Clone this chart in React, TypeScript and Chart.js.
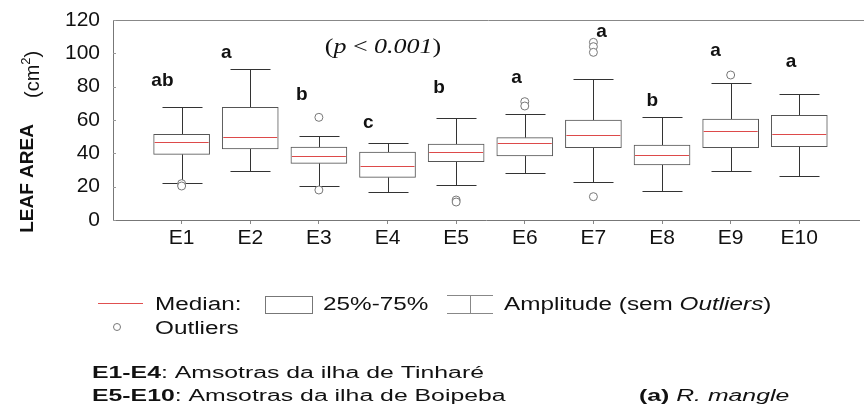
import React, { useEffect, useRef } from 'react';
import { Chart, registerables } from 'chart.js';

Chart.register(...registerables);

const categories = ['E1', 'E2', 'E3', 'E4', 'E5', 'E6', 'E7', 'E8', 'E9', 'E10'];
const whiskerLow = [22.2, 29.4, 20.2, 17, 20.8, 28.2, 23, 17.6, 29.4, 26.4];
const q1 = [39.4, 42.6, 34, 25.6, 35, 38.4, 43.4, 33, 43.4, 44];
const median = [46.6, 50, 38.2, 32.6, 40.6, 46.4, 50.8, 38.8, 53.2, 51.8];
const q3 = [51.4, 67.6, 43.8, 40.8, 45.6, 49.4, 60, 45, 60.6, 62.8];
const whiskerHigh = [67.6, 90.6, 50.6, 46.2, 61.2, 63.8, 84.8, 61.8, 82.4, 75.8];

const outlierGroup = [1, 1, 3, 3, 5, 5, 6, 6, 7, 7, 7, 7, 9];
const outlierValue = [21.8, 20.4, 61.6, 18, 12, 10.8, 71, 68.4, 106.6, 104, 100.6, 14, 87];

const groupLetters = ['ab', 'a', 'b', 'c', 'b', 'a', 'a', 'b', 'a', 'a'];
const letterX = [0.72, 1.65, 2.75, 3.72, 4.75, 5.88, 7.12, 7.86, 8.78, 9.88];
const letterY = [80.4, 97, 72, 55, 76.4, 82.4, 110, 68.4, 98.4, 91.6];

const yMin = 0;
const yMax = 120;
const yStep = 20;
const xMax = 10.87;

const SANS = '"Liberation Sans", Arial, sans-serif';
const SERIF = '"Liberation Serif", "Times New Roman", serif';
const TEXT = '#111';

type Seg = [string, string, number?];

function drawSegs(ctx: CanvasRenderingContext2D, segs: Seg[], x: number, y: number, sx: number, align: 'left' | 'center' = 'left') {
  ctx.save();
  let total = 0;
  for (const [t, f] of segs) {
    ctx.font = f;
    total += ctx.measureText(t).width;
  }
  const start = align === 'center' ? x - (total * sx) / 2 : x;
  ctx.translate(start, y);
  ctx.scale(sx, 1);
  ctx.textAlign = 'left';
  ctx.textBaseline = 'alphabetic';
  ctx.fillStyle = TEXT;
  let cx = 0;
  for (const [t, f, dy] of segs) {
    ctx.font = f;
    ctx.fillText(t, cx, dy || 0);
    cx += ctx.measureText(t).width;
  }
  ctx.restore();
}

const boxPartsPlugin = {
  id: 'boxParts',
  beforeDatasetsDraw(chart: any) {
    const ctx = chart.ctx as CanvasRenderingContext2D;
    const xs = chart.scales.x;
    const ys = chart.scales.y;
    const area = chart.chartArea;
    ctx.save();
    ctx.strokeStyle = '#888';
    ctx.lineWidth = 1;
    ctx.beginPath();
    ctx.moveTo(area.left, Math.round(area.top) + 0.5);
    ctx.lineTo(chart.width, Math.round(area.top) + 0.5);
    ctx.stroke();
    ctx.strokeStyle = '#999';
    for (let v = yMin; v <= yMax; v += yStep) {
      const py = Math.round(ys.getPixelForValue(v)) + 0.5;
      ctx.beginPath();
      ctx.moveTo(area.left, py);
      ctx.lineTo(area.left + 3, py);
      ctx.stroke();
    }
    ctx.strokeStyle = '#333';
    ctx.lineWidth = 1;
    const capHalf = 20;
    categories.forEach((_, i) => {
      const px = Math.round(xs.getPixelForValue(i + 1)) + 0.5;
      const pLow = Math.round(ys.getPixelForValue(whiskerLow[i])) + 0.5;
      const pHigh = Math.round(ys.getPixelForValue(whiskerHigh[i])) + 0.5;
      const pQ1 = ys.getPixelForValue(q1[i]);
      const pQ3 = ys.getPixelForValue(q3[i]);
      ctx.beginPath();
      ctx.moveTo(px, pLow);
      ctx.lineTo(px, pQ1);
      ctx.moveTo(px, pQ3);
      ctx.lineTo(px, pHigh);
      ctx.moveTo(px - capHalf, pLow);
      ctx.lineTo(px + capHalf, pLow);
      ctx.moveTo(px - capHalf, pHigh);
      ctx.lineTo(px + capHalf, pHigh);
      ctx.stroke();
    });
    ctx.restore();
  },
  afterDatasetsDraw(chart: any) {
    const ctx = chart.ctx as CanvasRenderingContext2D;
    const xs = chart.scales.x;
    const ys = chart.scales.y;
    ctx.save();
    ctx.strokeStyle = '#dd4a4a';
    ctx.lineWidth = 1;
    const half = 27;
    categories.forEach((_, i) => {
      const px = xs.getPixelForValue(i + 1);
      const py = Math.round(ys.getPixelForValue(median[i])) + 0.5;
      ctx.beginPath();
      ctx.moveTo(px - half, py);
      ctx.lineTo(px + half, py);
      ctx.stroke();
    });
    ctx.fillStyle = TEXT;
    ctx.font = `bold 19px ${SANS}`;
    ctx.textAlign = 'center';
    ctx.textBaseline = 'alphabetic';
    groupLetters.forEach((t, i) => {
      ctx.fillText(t, xs.getPixelForValue(letterX[i]), ys.getPixelForValue(letterY[i]));
    });
    ctx.restore();
  },
  afterDraw(chart: any) {
    const ctx = chart.ctx as CanvasRenderingContext2D;
    ctx.save();
    ctx.fillStyle = TEXT;
    ctx.save();
    ctx.translate(33, 178.5);
    ctx.rotate(-Math.PI / 2);
    ctx.font = `bold 19px ${SANS}`;
    ctx.textAlign = 'center';
    ctx.textBaseline = 'alphabetic';
    ctx.fillText('LEAF AREA', 0, 0);
    ctx.restore();

    ctx.save();
    ctx.translate(39, 98);
    ctx.rotate(-Math.PI / 2);
    ctx.textAlign = 'left';
    ctx.textBaseline = 'alphabetic';
    ctx.font = `20px ${SANS}`;
    let cx = 0;
    ctx.fillText('(cm', cx, 0);
    cx += ctx.measureText('(cm').width;
    ctx.font = `13px ${SANS}`;
    ctx.fillText('2', cx, -9);
    cx += ctx.measureText('2').width;
    ctx.font = `20px ${SANS}`;
    ctx.fillText(')', cx, 0);
    ctx.restore();

    drawSegs(
      ctx,
      [
        ['(', `20px ${SERIF}`],
        ['p', `italic 20px ${SERIF}`],
        [' < ', `20px ${SERIF}`],
        ['0.001', `italic 20px ${SERIF}`],
        [')', `20px ${SERIF}`],
      ],
      383,
      53,
      1.3,
      'center'
    );

    const lsx = 1.35;
    ctx.strokeStyle = '#e05050';
    ctx.lineWidth = 1;
    ctx.beginPath();
    ctx.moveTo(98, 303.5);
    ctx.lineTo(143, 303.5);
    ctx.stroke();
    drawSegs(ctx, [['Median:', `18px ${SANS}`]], 155, 310, lsx);

    ctx.strokeStyle = '#777';
    ctx.strokeRect(265.5, 296.5, 47, 17);
    drawSegs(ctx, [['25%-75%', `18px ${SANS}`]], 323, 310, lsx);

    ctx.strokeStyle = '#888';
    ctx.beginPath();
    ctx.moveTo(447, 295.5);
    ctx.lineTo(493, 295.5);
    ctx.moveTo(447, 313.5);
    ctx.lineTo(493, 313.5);
    ctx.moveTo(470.5, 295.5);
    ctx.lineTo(470.5, 313.5);
    ctx.stroke();
    drawSegs(
      ctx,
      [
        ['Amplitude (sem ', `18px ${SANS}`],
        ['Outliers', `italic 18px ${SANS}`],
        [')', `18px ${SANS}`],
      ],
      504,
      310,
      lsx
    );

    ctx.strokeStyle = '#777';
    ctx.beginPath();
    ctx.arc(117, 327, 3.5, 0, Math.PI * 2);
    ctx.stroke();
    drawSegs(ctx, [['Outliers', `18px ${SANS}`]], 155, 334, lsx);

    const bsx = 1.55;
    drawSegs(
      ctx,
      [
        ['E1-E4', `bold 16px ${SANS}`],
        [': Amsotras da ilha de Tinharé', `16px ${SANS}`],
      ],
      92,
      378,
      bsx
    );
    drawSegs(
      ctx,
      [
        ['E5-E10', `bold 16px ${SANS}`],
        [': Amsotras da ilha de Boipeba', `16px ${SANS}`],
      ],
      92,
      401,
      bsx
    );
    drawSegs(
      ctx,
      [
        ['(a)', `bold 16px ${SANS}`],
        [' R. mangle', `italic 16px ${SANS}`],
      ],
      639,
      401,
      bsx
    );
    ctx.restore();
  },
};

export default function App() {
  const canvasRef = useRef<HTMLCanvasElement | null>(null);

  useEffect(() => {
    if (!canvasRef.current) return;
    const boxData = categories.map((_, i) => ({ x: i + 1, y: [q1[i], q3[i]] }));
    const outlierData = outlierGroup.map((g, i) => ({ x: g, y: outlierValue[i] }));
    const chart = new Chart(canvasRef.current, {
      type: 'bar',
      data: {
        datasets: [
          {
            type: 'bar',
            label: '25%-75%',
            data: boxData as any,
            backgroundColor: '#ffffff',
            borderColor: '#555',
            borderWidth: 1,
            borderSkipped: false,
            barThickness: 56,
          } as any,
          {
            type: 'scatter',
            label: 'Outliers',
            data: outlierData,
            pointStyle: 'circle',
            pointRadius: 4,
            backgroundColor: '#ffffff',
            borderColor: '#777',
            borderWidth: 1,
          } as any,
        ],
      },
      options: {
        animation: false,
        responsive: false,
        devicePixelRatio: 1,
        layout: { padding: { top: 20, left: 0, right: 0, bottom: 0 } },
        plugins: {
          legend: { display: false },
          title: { display: false },
          tooltip: { enabled: false },
        },
        scales: {
          x: {
            type: 'linear',
            min: 0,
            max: xMax,
            offset: false,
            position: 'bottom',
            afterBuildTicks: (scale: any) => {
              scale.ticks = categories.map((_, i) => ({ value: i + 1 }));
            },
            afterFit: (scale: any) => {
              scale.height = 190;
              scale.paddingLeft = 0;
              scale.paddingRight = 0;
            },
            ticks: {
              callback: (v: any) => categories[Math.round(Number(v)) - 1] ?? '',
              font: { family: SANS, size: 21 },
              color: TEXT,
              padding: 2,
              maxRotation: 0,
              autoSkip: false,
            },
            grid: {
              display: true,
              offset: false,
              drawOnChartArea: false,
              drawTicks: true,
              tickLength: 4,
              color: '#888',
            },
            border: { display: true, color: '#777' },
          },
          y: {
            type: 'linear',
            min: yMin,
            max: yMax,
            afterFit: (scale: any) => {
              scale.width = 113;
              scale.paddingTop = 0;
              scale.paddingBottom = 0;
            },
            ticks: {
              stepSize: yStep,
              font: { family: SANS, size: 21 },
              color: TEXT,
              padding: 13,
            },
            grid: { display: true, drawOnChartArea: false, drawTicks: false },
            border: { display: true, color: '#777' },
          },
        },
      } as any,
      plugins: [boxPartsPlugin],
    });
    return () => chart.destroy();
  }, []);

  return (
    <div style={{ position: 'fixed', left: 0, top: 0, width: 864, height: 410, background: '#fff' }}>
      <canvas ref={canvasRef} width={864} height={410} style={{ display: 'block' }} />
    </div>
  );
}
